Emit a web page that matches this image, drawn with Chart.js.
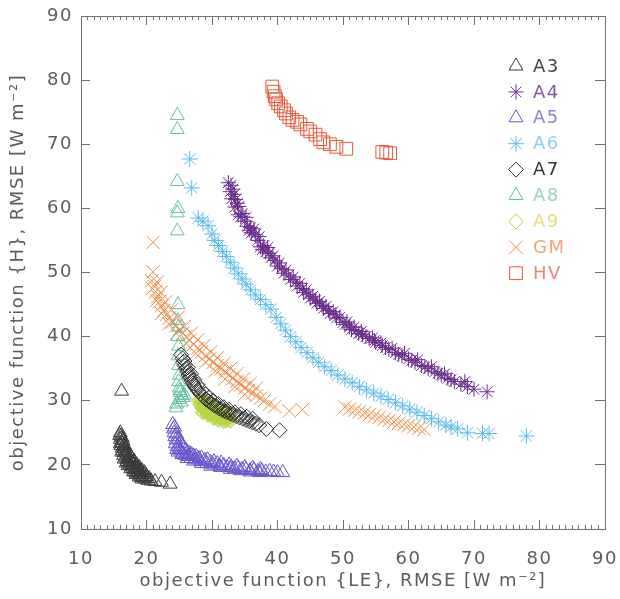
<!DOCTYPE html>
<html>
<head>
<meta charset="utf-8">
<script src="https://cdn.jsdelivr.net/npm/chart.js@4/dist/chart.umd.min.js"></script>
<style>
  html, body { margin: 0; padding: 0; background: #fff; }
  #wrap { width: 620px; height: 599px; }
</style>
</head>
<body>
<div id="wrap"><canvas id="chart" width="620" height="599"></canvas></div>
<script>
// axis range and tick labels
const axisMin = 10;
const axisMax = 90;
const tickStep = 10;
const minorStep = 1;

const seriesNames = ["A3", "A4", "A5", "A6", "A7", "A8", "A9", "GM", "HV"];

// [LE RMSE, H RMSE] pairs
const seriesA3 = [
    [16.2, 31.5],
    [16.0, 25.0], [16.1, 24.5], [16.0, 24.0], [16.3, 24.2], [16.2, 23.5], [16.1, 23.0], [16.6, 23.1],
    [16.3, 22.6], [16.5, 22.9], [16.4, 22.2], [16.6, 21.9], [16.9, 22.0], [16.5, 21.5], [16.8, 21.2],
    [17.0, 21.7], [17.0, 20.9], [17.2, 21.3], [17.1, 20.5], [17.4, 21.0], [17.3, 20.3], [17.6, 20.6],
    [17.5, 20.0], [17.9, 20.4], [17.7, 19.8], [18.0, 20.1], [17.9, 19.5], [18.1, 19.3], [18.4, 19.6],
    [18.3, 19.0], [18.6, 19.4], [18.5, 18.8], [18.8, 19.2], [18.7, 18.6], [19.1, 18.9], [18.9, 18.4],
    [19.2, 18.2], [19.6, 18.5], [19.5, 18.0], [19.8, 17.8], [20.2, 17.6], [20.7, 17.5], [21.3, 17.4],
    [22.3, 17.3], [23.6, 17.0],
    [15.9, 24.6], [16.4, 23.8], [16.0, 23.3], [16.7, 22.5], [16.2, 22.0], [17.1, 22.2], [16.6, 20.9],
    [17.4, 21.6], [16.9, 20.3], [17.7, 21.1], [17.2, 19.9], [18.1, 20.6], [17.6, 19.4], [18.5, 20.0],
    [18.0, 18.9], [18.9, 19.6], [18.4, 18.5], [19.3, 19.1], [18.9, 18.1], [19.7, 18.8], [19.3, 17.8],
    [20.0, 18.2], [20.4, 17.9]
];
const seriesA4 = [
    [32.5, 64.0], [32.8, 62.6], [33.2, 63.0], [33.0, 61.5], [33.6, 61.4], [33.5, 60.2], [34.1, 60.3],
    [34.0, 59.0], [34.6, 59.2], [35.0, 58.0], [35.4, 57.2], [35.9, 57.0], [36.0, 56.2], [36.6, 55.9],
    [37.0, 55.0], [37.4, 54.0], [37.9, 54.2], [38.2, 53.2], [38.7, 53.0], [39.0, 52.3], [39.6, 51.9],
    [40.0, 51.0], [40.6, 50.6], [41.0, 49.9], [41.7, 49.6], [42.0, 48.9], [42.8, 48.5], [43.0, 47.9],
    [43.8, 47.5], [44.0, 46.9], [44.8, 46.6], [45.0, 46.0], [45.8, 45.7], [46.0, 45.2], [46.8, 44.9],
    [47.0, 44.4], [47.8, 44.1], [48.0, 43.6], [48.9, 43.4], [49.0, 42.9], [50.0, 42.2], [50.6, 42.3],
    [51.0, 41.5], [51.7, 41.5], [52.0, 40.9], [52.8, 40.8], [53.0, 40.3], [54.0, 39.7], [54.5, 39.8],
    [55.0, 39.1], [55.8, 39.0], [56.0, 38.6], [57.0, 38.0], [57.5, 38.2], [58.0, 37.5], [59.0, 37.0],
    [59.4, 37.4], [60.0, 36.5], [61.0, 36.0], [61.4, 36.4], [62.0, 35.5], [63.0, 35.0], [63.5, 35.3],
    [64.0, 34.5], [65.0, 34.0], [65.5, 34.2], [66.0, 33.5], [67.0, 33.0], [68.0, 32.6], [68.6, 33.0],
    [69.0, 32.2], [70.0, 31.8], [72.0, 31.4],
    [32.9, 63.6], [33.4, 62.2], [33.9, 60.8], [34.4, 58.7], [35.2, 58.6], [35.7, 56.6], [36.4, 56.8],
    [37.2, 55.6], [37.7, 53.6], [38.5, 53.9], [39.3, 52.6], [40.3, 51.5], [41.3, 50.4], [42.4, 49.3],
    [43.4, 48.3], [44.4, 47.3], [45.4, 46.3], [46.4, 45.5], [47.4, 44.7], [48.5, 43.9], [49.5, 43.0],
    [50.3, 41.9], [51.3, 41.1], [52.4, 40.5], [53.5, 40.0], [54.8, 39.4], [56.5, 38.3], [58.5, 37.2],
    [60.5, 36.3], [62.5, 35.3], [64.5, 34.3], [66.5, 33.3]
];
const seriesA5 = [
    [24.0, 26.3], [24.1, 25.6], [24.2, 25.0], [24.3, 24.4], [24.5, 23.9], [24.4, 23.3], [24.7, 22.9],
    [25.0, 22.6], [25.2, 22.2], [24.8, 22.0], [25.5, 21.8], [25.9, 21.5], [26.3, 21.3], [25.6, 22.9],
    [26.0, 22.3], [26.6, 21.8], [26.8, 21.0], [27.2, 21.4], [27.5, 20.8], [28.0, 21.0], [28.3, 20.5],
    [28.9, 20.7], [29.2, 20.2], [29.8, 20.4], [30.2, 20.0], [30.8, 20.2], [31.2, 19.8], [31.8, 19.9],
    [32.3, 19.6], [32.9, 19.7], [33.4, 19.4], [34.0, 19.5], [34.6, 19.3], [35.2, 19.3], [35.8, 19.1],
    [36.4, 19.2], [37.0, 19.0], [37.6, 19.1], [38.2, 18.9], [38.8, 19.0], [39.4, 18.9], [40.0, 18.8],
    [40.8, 18.8],
    [24.3, 25.9], [24.6, 24.8], [24.9, 24.0], [25.2, 23.4], [25.7, 22.6], [26.2, 22.0], [26.9, 21.6],
    [27.6, 21.3], [28.4, 21.1], [29.3, 20.8], [30.3, 20.5], [31.4, 20.3], [32.6, 20.0], [33.8, 19.8],
    [35.0, 19.6], [36.2, 19.5], [37.4, 19.3], [24.6, 22.4], [25.4, 21.6], [26.2, 21.0], [27.2, 20.6],
    [28.4, 20.2], [29.8, 19.8], [31.3, 19.6], [32.8, 19.3], [34.3, 19.1], [35.8, 18.9], [37.3, 18.8]
];
const seriesA6 = [
    [26.6, 67.7], [26.9, 63.2], [27.9, 58.5], [28.6, 58.0], [29.4, 57.3], [30.0, 56.0], [30.4, 55.0],
    [31.0, 54.2], [31.6, 53.3], [32.2, 52.5], [32.8, 51.6], [33.4, 50.7], [34.0, 49.8], [34.6, 49.0],
    [35.2, 48.2], [35.9, 47.3], [36.6, 46.5], [37.4, 45.8], [38.2, 45.0], [39.0, 44.3], [39.8, 43.0],
    [40.5, 42.0], [41.2, 41.0], [42.0, 40.0], [42.8, 39.2], [43.6, 38.3], [44.5, 37.5], [45.4, 36.7],
    [46.3, 36.0], [47.2, 35.3], [48.2, 34.7], [49.2, 34.0], [50.3, 33.4], [51.4, 32.8], [52.5, 32.2],
    [53.6, 31.7], [54.7, 31.2], [55.8, 30.7], [56.9, 30.2], [58.0, 29.7], [59.1, 29.2], [60.2, 28.7],
    [61.3, 28.2], [62.4, 27.7], [63.5, 27.2], [64.6, 26.7], [65.7, 26.2], [66.5, 25.9], [67.5, 25.6],
    [69.0, 25.0], [71.3, 24.9], [72.3, 24.9], [78.0, 24.5]
];
const seriesA7 = [
    [25.3, 37.2], [25.5, 36.6], [25.8, 36.2], [25.6, 36.0], [25.8, 35.5], [26.3, 35.2], [26.0, 35.0],
    [26.2, 34.5], [26.8, 34.2], [26.4, 34.0], [26.6, 33.6], [27.3, 33.3], [26.9, 33.1], [27.1, 32.7],
    [27.8, 32.5], [27.3, 32.3], [27.6, 31.9], [28.4, 31.7], [27.9, 31.5], [28.2, 31.1], [29.0, 31.0],
    [28.5, 30.8], [28.8, 30.5], [29.6, 30.5], [29.1, 30.2], [30.2, 30.0], [29.5, 29.9], [29.9, 29.6],
    [31.0, 29.5], [30.3, 29.3], [30.7, 29.1], [31.8, 29.0], [31.1, 28.8], [31.5, 28.6], [32.6, 28.6],
    [31.9, 28.4], [32.3, 28.2], [33.5, 28.2], [32.8, 28.0], [33.2, 27.8], [34.4, 27.9], [33.7, 27.6],
    [34.2, 27.4], [35.3, 27.5], [34.7, 27.2], [35.2, 27.0], [36.2, 27.2], [35.7, 26.8], [36.2, 26.6],
    [36.7, 26.4], [37.2, 26.2], [38.3, 25.6], [40.3, 25.4]
];
const seriesA8 = [
    [24.7, 74.5], [24.7, 72.3], [24.7, 64.2], [24.8, 60.0], [24.7, 59.3], [24.7, 56.5],
    [24.8, 45.0], [24.8, 42.5], [24.9, 41.5], [24.8, 40.0], [24.9, 38.5], [24.8, 37.0], [24.9, 35.5],
    [25.0, 34.0], [24.9, 33.0], [25.0, 32.0], [25.2, 31.3], [25.4, 30.8], [25.6, 30.5], [25.0, 30.2],
    [25.3, 29.8], [24.6, 29.5], [25.8, 30.9], [25.1, 31.6], [24.5, 28.9]
];
const seriesA9 = [
    [28.0, 30.0], [28.2, 29.4], [28.5, 28.9], [28.8, 29.6], [29.0, 28.5], [29.3, 29.1], [29.5, 28.2],
    [29.8, 28.8], [30.0, 27.9], [30.3, 28.5], [30.5, 27.6], [30.8, 28.2], [31.0, 27.4], [31.3, 27.9],
    [31.6, 27.2], [31.9, 27.6], [32.2, 27.0], [32.5, 27.3], [28.4, 30.2], [29.1, 29.7], [29.7, 29.3],
    [30.4, 28.9], [31.0, 28.6], [31.7, 28.2], [32.4, 27.8], [28.6, 28.2], [29.4, 27.8], [30.2, 27.3],
    [31.0, 27.0], [31.8, 26.8], [32.8, 26.9]
];
const seriesGM = [
    [21.0, 54.7], [21.0, 50.1], [20.8, 48.7], [21.2, 47.8], [21.4, 47.0], [21.7, 46.2], [22.0, 45.5],
    [22.3, 44.8], [22.7, 44.1], [23.1, 43.5], [23.5, 42.9], [24.0, 42.3], [24.5, 41.7], [25.0, 41.1],
    [25.5, 40.5], [26.0, 40.0], [26.6, 39.4], [27.2, 38.8], [27.8, 38.2], [28.4, 37.6], [29.0, 37.0],
    [29.6, 36.5], [30.2, 36.0], [30.8, 35.5], [31.4, 35.0], [32.0, 34.5], [32.6, 34.0], [33.2, 33.5],
    [33.8, 33.0], [34.4, 32.5], [35.0, 32.0], [35.6, 31.6], [36.2, 31.2], [36.8, 30.8], [37.4, 30.4],
    [38.0, 30.0], [38.8, 29.5], [39.6, 29.1], [41.8, 28.4], [43.8, 28.6],
    [21.6, 48.5], [22.2, 46.9], [22.9, 45.4], [23.8, 44.2], [24.8, 43.0], [25.8, 41.6], [26.8, 40.5],
    [27.8, 39.5], [28.8, 38.6], [29.8, 37.6], [30.8, 36.7], [31.8, 35.8], [32.8, 35.0], [33.8, 34.2],
    [34.8, 33.4], [35.8, 32.7], [36.8, 32.0], [20.9, 47.5], [21.5, 45.6], [22.3, 43.6], [23.4, 42.0],
    [24.6, 40.5], [26.0, 39.0], [27.5, 37.4], [29.0, 36.0], [30.5, 34.7], [32.0, 33.4], [33.5, 32.2],
    [35.0, 31.0],
    [50.3, 29.0], [51.0, 28.7], [51.8, 28.5], [52.5, 28.3], [53.3, 28.1], [54.0, 27.8], [54.8, 27.6],
    [55.5, 27.4], [56.3, 27.1], [57.0, 26.9], [57.8, 26.7], [58.5, 26.5], [59.3, 26.3], [60.0, 26.1],
    [60.8, 25.9], [61.6, 25.7], [62.4, 25.5]
];
const seriesHV = [
    [39.2, 79.0], [39.4, 78.2], [39.6, 77.5], [39.8, 77.0], [40.1, 76.4], [40.5, 75.9], [41.0, 75.3],
    [41.3, 74.8], [41.8, 74.2], [42.3, 73.8], [43.0, 73.5], [43.5, 73.1], [44.5, 72.4], [45.0, 72.0],
    [45.8, 71.5], [46.5, 70.8], [47.0, 70.3], [48.0, 70.0], [49.0, 69.6], [50.5, 69.3],
    [56.0, 68.8], [56.6, 68.7], [57.2, 68.6]
];

const seriesData = [seriesA3, seriesA4, seriesA5, seriesA6, seriesA7, seriesA8, seriesA9, seriesGM, seriesHV];

// marker look for each series
const markerStyles = [
    { shape: "triangle", radius: 8, color: "#3a3a3a", fill: "rgba(0,0,0,0)", text: "#444444" },
    { shape: "star", radius: 7.5, color: "#6a2d8c", fill: "rgba(0,0,0,0)", text: "#7d5a9c" },
    { shape: "triangle", radius: 8, color: "#6655cc", fill: "rgba(0,0,0,0)", text: "#8a82d6" },
    { shape: "star", radius: 8, color: "#5cbde6", fill: "rgba(0,0,0,0)", text: "#8fd0ee" },
    { shape: "rectRot", radius: 7.5, color: "#2e2e2e", fill: "rgba(0,0,0,0)", text: "#333333" },
    { shape: "triangle", radius: 8, color: "#62c0a0", fill: "rgba(0,0,0,0)", text: "#98d4bf" },
    { shape: "rectRot", radius: 7.5, color: "#b4d23c", fill: "rgba(184,214,70,0.55)", text: "#e6e07c" },
    { shape: "crossRot", radius: 9.5, color: "#f28c44", fill: "rgba(0,0,0,0)", text: "#f3a478" },
    { shape: "rect", radius: 9, color: "#e8583e", fill: "rgba(0,0,0,0)", text: "#ef8672" }
];

const textColor = "#5c5c5c";
const frameColor = "#707070";
const fontFamily = "'DejaVu Sans', sans-serif";
const tickFont = { family: fontFamily, size: 18 };

// legend, top right inside the plot
const insideLegend = {
    id: "insideLegend",
    afterDraw(chart) {
        const c = chart.ctx;
        c.save();
        c.font = "18px " + fontFamily;
        c.letterSpacing = "1.5px";
        c.textBaseline = "middle";
        c.textAlign = "left";
        seriesNames.forEach((name, i) => {
            const st = markerStyles[i];
            const y = 66 + i * 25.9;
            c.strokeStyle = st.color;
            c.fillStyle = "rgba(0,0,0,0)";
            c.lineWidth = 1;
            Chart.helpers.drawPoint(c, { pointStyle: st.shape, radius: st.radius, rotation: 0, borderWidth: 1 }, 516, y);
            c.fillStyle = st.text;
            c.fillText(name, 533, y + 1);
        });
        c.restore();
    }
};

// wide, airy lettering like the original
const letterSpace = {
    id: "letterSpace",
    beforeDraw(chart) {
        chart.ctx.letterSpacing = "1.5px";
    }
};

// axes that only draw the frame and the inward ticks
function frameAxis(axis, position, step, tickLen, showBorder, weight) {
    return {
        type: "linear",
        axis: axis,
        position: position,
        weight: weight,
        min: axisMin,
        max: axisMax,
        grid: { display: true, drawOnChartArea: false, drawTicks: true, tickLength: -tickLen, color: frameColor, tickColor: frameColor, lineWidth: 1 },
        border: { display: showBorder, color: frameColor, width: 1 },
        ticks: { display: false, stepSize: step, autoSkip: false },
        afterFit(scale) {
            if (axis === "x") scale.height = 0; else scale.width = 0;
            scale.paddingLeft = 0;
            scale.paddingRight = 0;
            scale.paddingTop = 0;
            scale.paddingBottom = 0;
        }
    };
}

const datasets = seriesNames.map((name, i) => ({
    label: name,
    data: seriesData[i].map(p => ({ x: p[0], y: p[1] })),
    xAxisID: "x",
    yAxisID: "y",
    pointStyle: markerStyles[i].shape,
    pointRadius: markerStyles[i].radius,
    pointHoverRadius: markerStyles[i].radius,
    borderColor: markerStyles[i].color,
    backgroundColor: markerStyles[i].fill,
    borderWidth: 1
}));

const ctx = document.getElementById("chart").getContext("2d");
new Chart(ctx, {
    type: "scatter",
    data: { datasets: datasets },
    options: {
        responsive: false,
        animation: false,
        events: [],
        layout: { padding: { left: 0, top: 16, right: 15, bottom: 0 } },
        plugins: {
            legend: { display: false },
            tooltip: { enabled: false }
        },
        scales: {
            x: {
                type: "linear",
                axis: "x",
                position: "bottom",
                weight: 1,
                min: axisMin,
                max: axisMax,
                grid: { display: true, drawOnChartArea: false, drawTicks: true, tickLength: -9, color: frameColor, tickColor: frameColor, lineWidth: 1 },
                border: { display: true, color: frameColor, width: 1 },
                ticks: { stepSize: tickStep, color: textColor, font: tickFont, padding: 29, maxRotation: 0, autoSkip: false },
                title: {
                    display: true,
                    text: "objective function {LE}, RMSE [W m\u207B\u00B2]",
                    color: textColor,
                    font: tickFont,
                    padding: { top: 0, bottom: 7 }
                },
                afterFit(scale) {
                    scale.height = 70;
                    scale.paddingLeft = 0;
                    scale.paddingRight = 0;
                }
            },
            y: {
                type: "linear",
                axis: "y",
                position: "left",
                weight: 1,
                min: axisMin,
                max: axisMax,
                grid: { display: true, drawOnChartArea: false, drawTicks: true, tickLength: -9, color: frameColor, tickColor: frameColor, lineWidth: 1 },
                border: { display: true, color: frameColor, width: 1 },
                ticks: { stepSize: tickStep, color: textColor, font: tickFont, padding: 17, autoSkip: false },
                title: {
                    display: true,
                    text: "objective function {H}, RMSE [W m\u207B\u00B2]",
                    color: textColor,
                    font: tickFont,
                    padding: { top: 8, bottom: 0 }
                },
                afterFit(scale) {
                    scale.width = 81;
                    scale.paddingTop = 0;
                    scale.paddingBottom = 0;
                }
            },
            xMinor: frameAxis("x", "bottom", minorStep, 4, false, 0),
            xTop: frameAxis("x", "top", tickStep, 9, true, 1),
            xTopMinor: frameAxis("x", "top", minorStep, 4, false, 0),
            yRight: frameAxis("y", "right", tickStep, 10, true, 1)
        }
    },
    plugins: [letterSpace, insideLegend]
});
</script>
</body>
</html>
